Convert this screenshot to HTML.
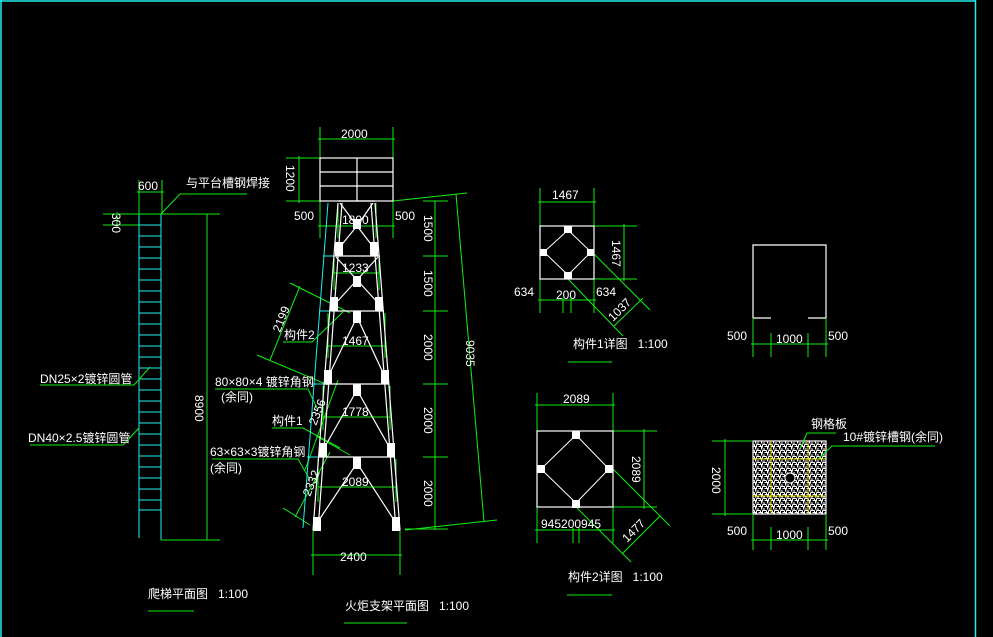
<!DOCTYPE html>
<html><head><meta charset="utf-8"><style>
html,body{margin:0;padding:0;background:#000;}
svg{display:block}
text{font-family:"Liberation Sans","Noto Sans CJK SC",sans-serif;fill:#fff;font-size:12px;}
</style></head><body>
<svg width="993" height="637" viewBox="0 0 993 637" xmlns="http://www.w3.org/2000/svg">
<defs>
<pattern id="grt" width="6" height="6" patternUnits="userSpaceOnUse">
<path d="M0.5 0.5h4M0.5 0.5v3M2.5 2.5h3v3M0.5 5h2.5M4.5 0.5v2" stroke="#fff" stroke-width="1" fill="none"/>
</pattern>
</defs>
<rect width="993" height="637" fill="#000"/>
<line x1="1" y1="0" x2="1" y2="637" stroke="#2ee" stroke-width="1.5"/>
<line x1="0" y1="1" x2="976" y2="1" stroke="#2ee" stroke-width="1.5"/>
<line x1="975.5" y1="0" x2="975.5" y2="637" stroke="#2ee" stroke-width="1.5"/>

<!-- LADDER -->
<g stroke="#2ee" stroke-width="1">
<line x1="139" y1="214" x2="139" y2="538"/>
<line x1="161" y1="214" x2="161" y2="540"/>
<line x1="139" y1="214" x2="161" y2="214"/><line x1="139" y1="225" x2="161" y2="225"/><line x1="139" y1="236" x2="161" y2="236"/><line x1="139" y1="247" x2="161" y2="247"/><line x1="139" y1="258" x2="161" y2="258"/><line x1="139" y1="269" x2="161" y2="269"/><line x1="139" y1="280" x2="161" y2="280"/><line x1="139" y1="291" x2="161" y2="291"/><line x1="139" y1="302" x2="161" y2="302"/><line x1="139" y1="313" x2="161" y2="313"/><line x1="139" y1="324" x2="161" y2="324"/><line x1="139" y1="335" x2="161" y2="335"/><line x1="139" y1="346" x2="161" y2="346"/><line x1="139" y1="357" x2="161" y2="357"/><line x1="139" y1="368" x2="161" y2="368"/><line x1="139" y1="379" x2="161" y2="379"/><line x1="139" y1="390" x2="161" y2="390"/><line x1="139" y1="401" x2="161" y2="401"/><line x1="139" y1="412" x2="161" y2="412"/><line x1="139" y1="423" x2="161" y2="423"/><line x1="139" y1="434" x2="161" y2="434"/><line x1="139" y1="445" x2="161" y2="445"/><line x1="139" y1="456" x2="161" y2="456"/><line x1="139" y1="467" x2="161" y2="467"/><line x1="139" y1="478" x2="161" y2="478"/><line x1="139" y1="489" x2="161" y2="489"/><line x1="139" y1="500" x2="161" y2="500"/><line x1="139" y1="510" x2="161" y2="510"/>
</g>
<g stroke="#1e1" stroke-width="1" fill="none">
<line x1="139" y1="180" x2="139" y2="214"/><line x1="162" y1="180" x2="162" y2="214"/>
<line x1="137" y1="192" x2="164" y2="192"/>
<line x1="103" y1="214" x2="220" y2="214"/><line x1="103" y1="225" x2="139" y2="225"/>
<line x1="117" y1="212" x2="117" y2="227"/>
<line x1="207" y1="214" x2="207" y2="540"/><line x1="161" y1="540" x2="220" y2="540"/>
<polyline points="161,214 180,194 247,194"/>
<polyline points="150,367 134,385 40,385"/>
<polyline points="139,428 123,445 30,445"/>
</g>
<text x="138" y="190">600</text>
<text transform="translate(112,213) rotate(90)" >300</text>
<text x="186" y="187" font-size="11">与平台槽钢焊接</text>
<text transform="translate(195,395) rotate(90)">8900</text>
<text x="40" y="383">DN25×2镀锌圆管</text>
<text x="28" y="442">DN40×2.5镀锌圆管</text>
<text x="148" y="598" font-size="11">爬梯平面图&#160;&#160;&#160;1:100</text>
<line x1="148" y1="611" x2="194" y2="611" stroke="#1e1"/>

<!-- TOWER -->
<g stroke="#1e1" stroke-width="1" fill="none">
<line x1="320" y1="127" x2="320" y2="238"/><line x1="393" y1="127" x2="393" y2="238"/>
<line x1="318" y1="139" x2="395" y2="139"/>
<line x1="286" y1="158" x2="320" y2="158"/><line x1="286" y1="201" x2="320" y2="201"/>
<line x1="299" y1="156" x2="299" y2="203"/>
<line x1="318" y1="226" x2="395" y2="226"/>
<line x1="338" y1="203" x2="338" y2="238"/><line x1="376" y1="203" x2="376" y2="238"/>
<line x1="334" y1="273" x2="379" y2="273"/><line x1="334" y1="258" x2="334" y2="290"/><line x1="379" y1="258" x2="379" y2="290"/>
<line x1="328" y1="346" x2="385" y2="346"/><line x1="328" y1="313" x2="328" y2="358"/><line x1="385" y1="313" x2="385" y2="358"/>
<line x1="323" y1="417" x2="390" y2="417"/><line x1="323" y1="386" x2="323" y2="430"/><line x1="390" y1="386" x2="390" y2="430"/>
<line x1="318" y1="487" x2="396" y2="487"/><line x1="318" y1="459" x2="318" y2="502"/><line x1="396" y1="459" x2="396" y2="502"/>
<line x1="313" y1="530" x2="313" y2="575"/><line x1="400" y1="530" x2="400" y2="575"/>
<line x1="311" y1="555" x2="402" y2="555"/>
<line x1="435" y1="201" x2="435" y2="530"/>
<line x1="423" y1="201" x2="448" y2="201"/><line x1="423" y1="256" x2="448" y2="256"/><line x1="423" y1="311" x2="448" y2="311"/><line x1="423" y1="384" x2="448" y2="384"/><line x1="423" y1="457" x2="448" y2="457"/><line x1="405" y1="529" x2="448" y2="529"/>
<line x1="393" y1="201" x2="467" y2="193"/><line x1="405" y1="530" x2="497" y2="520"/>
<line x1="456" y1="194" x2="484" y2="522"/>
<line x1="290" y1="283" x2="350" y2="313"/><line x1="257" y1="355" x2="328" y2="385"/>
<line x1="300" y1="286" x2="270" y2="360"/>
<polyline points="283,342 312,342 343,312"/>
<polyline points="215,389 308,389 318,410"/>
<polyline points="272,428 303,428 340,448"/>
<polyline points="212,459 298,459 310,480"/>
<line x1="338" y1="380" x2="305" y2="470"/><line x1="316" y1="436" x2="350" y2="455"/>
<line x1="330" y1="452" x2="295" y2="517"/><line x1="283" y1="508" x2="310" y2="525"/>
</g>
<g stroke="#2ee" stroke-width="1" fill="none">
<line x1="328" y1="203" x2="303" y2="528"/>
<line x1="323" y1="256" x2="340" y2="256"/><line x1="319" y1="311" x2="334" y2="311"/><line x1="313" y1="384" x2="328" y2="384"/><line x1="307" y1="457" x2="323" y2="457"/>
</g>
<g stroke="#fff" stroke-width="1.2" fill="none">
<rect x="320" y="158" width="73" height="43"/>
<line x1="320" y1="172" x2="393" y2="172"/><line x1="320" y1="186" x2="393" y2="186"/><line x1="357" y1="158" x2="357" y2="201"/>
<line x1="338" y1="203" x2="313" y2="530"/><line x1="342" y1="203" x2="318" y2="530"/>
<line x1="375" y1="203" x2="400" y2="530"/><line x1="371" y1="203" x2="396" y2="530"/>
<line x1="338" y1="201" x2="375" y2="201"/>
<line x1="335" y1="256" x2="380" y2="256"/><line x1="331" y1="311" x2="384" y2="311"/><line x1="325" y1="384" x2="389" y2="384"/><line x1="319" y1="457" x2="395" y2="457"/>
<line x1="340" y1="203" x2="357" y2="226"/><line x1="373" y1="203" x2="357" y2="226"/>
<line x1="357" y1="226" x2="339" y2="248"/><line x1="357" y1="226" x2="374" y2="248"/>
<line x1="336" y1="257" x2="379" y2="304"/><line x1="378" y1="257" x2="335" y2="304"/>
<line x1="357" y1="317" x2="328" y2="377"/><line x1="357" y1="317" x2="385" y2="377"/>
<line x1="357" y1="390" x2="323" y2="450"/><line x1="357" y1="390" x2="391" y2="450"/>
<line x1="357" y1="463" x2="317" y2="523"/><line x1="357" y1="463" x2="396" y2="523"/>
</g>
<g fill="#fff">
<rect x="353" y="219" width="8" height="10"/><rect x="353" y="276" width="8" height="11"/><rect x="353" y="311" width="8" height="12"/><rect x="353" y="384" width="8" height="12"/><rect x="353" y="457" width="8" height="12"/>
<rect x="335" y="242" width="8" height="14"/><rect x="370" y="242" width="8" height="14"/>
<rect x="330" y="297" width="8" height="14"/><rect x="375" y="297" width="8" height="14"/>
<rect x="324" y="370" width="8" height="14"/><rect x="381" y="370" width="8" height="14"/>
<rect x="319" y="443" width="8" height="14"/><rect x="387" y="443" width="8" height="14"/>
<rect x="313" y="517" width="8" height="14"/><rect x="392" y="517" width="8" height="14"/>
</g>
<text x="341" y="138">2000</text>
<text transform="translate(286,165) rotate(90)">1200</text>
<text x="294" y="220">500</text>
<text x="395" y="220">500</text>
<text x="342" y="224">1800</text>
<text x="342" y="272">1233</text>
<text x="342" y="345">1467</text>
<text x="342" y="416">1778</text>
<text x="342" y="486">2089</text>
<text x="340" y="561">2400</text>
<text transform="translate(424,215) rotate(90)">1500</text>
<text transform="translate(424,270) rotate(90)">1500</text>
<text transform="translate(424,334) rotate(90)">2000</text>
<text transform="translate(424,407) rotate(90)">2000</text>
<text transform="translate(424,480) rotate(90)">2000</text>
<text transform="translate(466,340) rotate(90)">9035</text>
<text transform="translate(280,333) rotate(-68)" font-size="11">2199</text>
<text transform="translate(316,426) rotate(-68)" font-size="11">2356</text>
<text transform="translate(310,497) rotate(-68)" font-size="11">2332</text>
<text x="284" y="339" font-size="11">构件2</text>
<text x="215" y="386" font-size="11">80×80×4 镀锌角钢</text>
<text x="221" y="401" font-size="11">(余同)</text>
<text x="272" y="425" font-size="11">构件1</text>
<text x="210" y="456" font-size="11">63×63×3镀锌角钢</text>
<text x="210" y="472" font-size="11">(余同)</text>
<text x="345" y="610" font-size="11">火炬支架平面图&#160;&#160;&#160;1:100</text>
<line x1="344" y1="623" x2="407" y2="623" stroke="#1e1"/>

<!-- DETAIL 1 -->
<g stroke="#1e1" stroke-width="1" fill="none">
<line x1="540" y1="188" x2="540" y2="313"/><line x1="594" y1="188" x2="594" y2="313"/>
<line x1="538" y1="202" x2="596" y2="202"/>
<line x1="594" y1="226" x2="637" y2="226"/><line x1="594" y1="279" x2="637" y2="279"/>
<line x1="624" y1="224" x2="624" y2="281"/>
<line x1="538" y1="300" x2="596" y2="300"/>
<line x1="563" y1="298" x2="563" y2="313"/><line x1="571" y1="298" x2="571" y2="313"/>
<line x1="594" y1="254" x2="650" y2="310"/><line x1="568" y1="279" x2="623" y2="336"/>
<line x1="614" y1="326" x2="643" y2="298"/>
<line x1="568" y1="362" x2="612" y2="362"/>
</g>
<rect x="540" y="226" width="54" height="53" fill="none" stroke="#fff" stroke-width="1.2"/>
<polyline points="568,230 591,252 568,275 544,252 568,230" fill="none" stroke="#fff"/>
<g fill="#fff"><rect x="564" y="226" width="8" height="7"/><rect x="540" y="249" width="7" height="7"/><rect x="587" y="249" width="7" height="7"/><rect x="564" y="272" width="8" height="7"/></g>
<text x="552" y="199">1467</text>
<text transform="translate(612,240) rotate(90)">1467</text>
<text x="514" y="296">634</text>
<text x="596" y="296">634</text>
<text x="556" y="299">200</text>
<text transform="translate(613,322) rotate(-45)" font-size="11">1037</text>
<text x="573" y="348" font-size="11">构件1详图&#160;&#160;&#160;1:100</text>

<!-- DETAIL 2 -->
<g stroke="#1e1" stroke-width="1" fill="none">
<line x1="537" y1="393" x2="537" y2="431"/><line x1="613" y1="393" x2="613" y2="431"/>
<line x1="535" y1="405" x2="615" y2="405"/>
<line x1="613" y1="431" x2="657" y2="431"/><line x1="613" y1="507" x2="657" y2="507"/>
<line x1="644" y1="429" x2="644" y2="509"/>
<line x1="537" y1="507" x2="537" y2="543"/><line x1="613" y1="507" x2="613" y2="543"/>
<line x1="535" y1="530" x2="615" y2="530"/>
<line x1="573" y1="528" x2="573" y2="543"/><line x1="579" y1="528" x2="579" y2="543"/>
<line x1="613" y1="469" x2="670" y2="526"/><line x1="576" y1="507" x2="631" y2="562"/>
<line x1="622" y1="554" x2="660" y2="516"/>
<line x1="567" y1="595" x2="612" y2="595"/>
</g>
<rect x="537" y="431" width="76" height="76" fill="none" stroke="#fff" stroke-width="1.2"/>
<polyline points="576,435 609,469 576,503 541,469 576,435" fill="none" stroke="#fff"/>
<g fill="#fff"><rect x="572" y="431" width="8" height="8"/><rect x="537" y="465" width="8" height="8"/><rect x="605" y="465" width="8" height="8"/><rect x="572" y="500" width="8" height="8"/></g>
<text x="563" y="403">2089</text>
<text transform="translate(632,456) rotate(90)">2089</text>
<text x="541" y="528" font-size="11.5">945200945</text>
<text transform="translate(627,543) rotate(-45)" font-size="11">1477</text>
<text x="568" y="581" font-size="11">构件2详图&#160;&#160;&#160;1:100</text>

<!-- RIGHT TOP -->
<g stroke="#fff" stroke-width="1.2" fill="none">
<polyline points="753,318 753,245 826,245 826,318"/>
<line x1="753" y1="318" x2="771" y2="318"/><line x1="808" y1="318" x2="826" y2="318"/>
</g>
<g stroke="#1e1" stroke-width="1">
<line x1="753" y1="318" x2="753" y2="357"/><line x1="771" y1="333" x2="771" y2="357"/><line x1="808" y1="333" x2="808" y2="357"/><line x1="826" y1="318" x2="826" y2="357"/>
<line x1="751" y1="344" x2="828" y2="344"/>
</g>
<text x="727" y="340">500</text>
<text x="776" y="343">1000</text>
<text x="828" y="340">500</text>

<!-- GRATING -->
<rect x="753" y="441" width="73" height="73" fill="url(#grt)" stroke="#fff" stroke-width="1.2"/>
<g stroke="#dd0" stroke-width="1">
<line x1="771" y1="441" x2="771" y2="514"/><line x1="808" y1="441" x2="808" y2="514"/>
<line x1="753" y1="459" x2="826" y2="459"/><line x1="753" y1="496" x2="826" y2="496"/>
</g>
<circle cx="790" cy="478" r="5" fill="#000" stroke="#fff"/>
<g stroke="#1e1" stroke-width="1" fill="none">
<line x1="712" y1="441" x2="753" y2="441"/><line x1="712" y1="514" x2="753" y2="514"/>
<line x1="725" y1="439" x2="725" y2="516"/>
<line x1="753" y1="514" x2="753" y2="550"/><line x1="771" y1="527" x2="771" y2="550"/><line x1="808" y1="527" x2="808" y2="550"/><line x1="826" y1="514" x2="826" y2="550"/>
<line x1="751" y1="540" x2="828" y2="540"/>
<polyline points="800,449 807,433 836,433"/>
<polyline points="818,459 832,446 935,446"/>
</g>
<text transform="translate(712,467) rotate(90)">2000</text>
<text x="727" y="535">500</text>
<text x="776" y="539">1000</text>
<text x="828" y="535">500</text>
<text x="811" y="428" font-size="10">钢格板</text>
<text x="843" y="441" font-size="11">10#镀锌槽钢(余同)</text>
</svg>
</body></html>
